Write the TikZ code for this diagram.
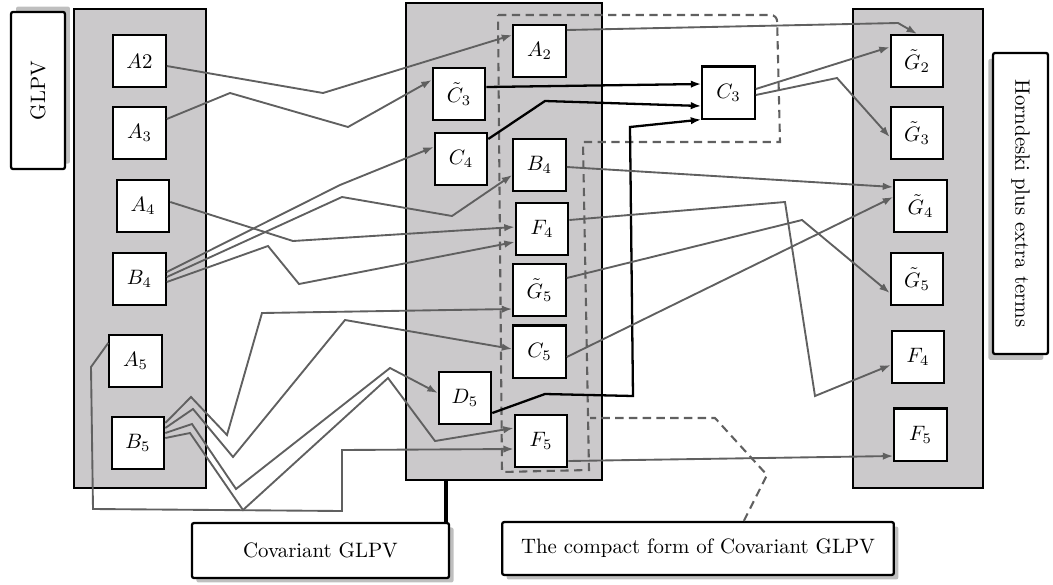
\documentclass[tikz,border=0pt]{standalone}
\usetikzlibrary{arrows.meta,shadows}
\definecolor{colfill}{RGB}{203,201,203}
\definecolor{lgray}{RGB}{96,96,96}
\begin{document}
\begin{tikzpicture}[x=0.48pt,y=-0.48pt,
  col/.style={draw=black,line width=1pt,fill=colfill,inner sep=0pt},
  box/.style={draw=black,line width=1pt,fill=white,minimum width=25.2pt,minimum height=25pt,inner sep=0pt},
  lab/.style={draw=black,line width=1.1pt,fill=white,rounded corners=1pt,inner sep=0pt},
  garrow/.style={draw=lgray,line width=0.9pt,-{Latex[length=5pt,width=3.6pt]}},
  barrow/.style={draw=black,line width=1.1pt,-{Latex[length=5pt,width=3.6pt]}},
  cdash/.style={draw=lgray,line width=1pt,dash pattern=on 4pt off 2.6pt},
]
\useasboundingbox (0,0) rectangle (1053,585);
% columns
\node[col,minimum width=63.4pt,minimum height=229.9pt] (lcol) at (140,248.5) {};
\node[col,minimum width=94.1pt,minimum height=229pt] (mcol) at (504,241.5) {};
\node[col,minimum width=62.4pt,minimum height=229.9pt] (rcol) at (918,248.5) {};
% compact outline
\draw[cdash] (498,15) [rounded corners=3pt] -- (777,15) [sharp corners] -- (780,142) -- (583,142) -- (589,470) -- (502,472) -- cycle;
% labels
\node[lab,rotate=90,minimum width=75.4pt,minimum height=25.9pt,drop shadow={shadow xshift=2.4pt,shadow yshift=2.6pt}] (glpv) at (38,90.5) {GLPV};
\node[lab,rotate=-90,minimum width=144.5pt,minimum height=26.4pt,drop shadow={shadow xshift=-2.2pt,shadow yshift=-2.8pt}] (hor) at (1020.5,203.5) {Horndeski plus extra terms};
\node[lab,minimum width=123.4pt,minimum height=26.4pt,drop shadow] (cov) at (320.5,550.5) {Covariant GLPV};
\node[lab,minimum width=188pt,minimum height=25.4pt,drop shadow] (cpt) at (698,548.5) {The compact form of Covariant GLPV};
% left nodes
\node[box] (A2L) at (139.5,61) {$A2$};
\node[box] (A3L) at (139.5,133) {$A_3$};
\node[box] (A4L) at (143,206) {$A_4$};
\node[box] (B4L) at (139.5,279) {$B_4$};
\node[box] (A5L) at (135.5,361) {$A_5$};
\node[box] (B5L) at (138,443) {$B_5$};
% middle nodes
\node[box] (mA2) at (539.5,51) {$A_2$};
\node[box] (mC3t) at (459,94) {$\tilde C_3$};
\node[box] (mC4) at (461,159) {$C_4$};
\node[box] (mB4) at (539.5,165) {$B_4$};
\node[box] (mF4) at (542,229) {$F_4$};
\node[box] (mG5) at (539.5,290) {$\tilde G_5$};
\node[box] (mC5) at (539.5,351.5) {$C_5$};
\node[box] (mD5) at (465,398) {$D_5$};
\node[box] (mF5) at (541,441) {$F_5$};
\node[box] (C3) at (728.5,92.5) {$C_3$};
% right nodes
\node[box] (G2) at (917,61) {$\tilde G_2$};
\node[box] (G3) at (917,133) {$\tilde G_3$};
\node[box] (G4) at (920.5,206) {$\tilde G_4$};
\node[box] (G5) at (917,279) {$\tilde G_5$};
\node[box] (F4R) at (918,357) {$F_4$};
\node[box] (F5R) at (920.5,434.5) {$F_5$};
% label connectors
\coordinate (covtop) at ([xshift=-2pt]cov.north east);
\draw[line width=1.6pt] (covtop) -- (covtop |- mcol.south);
\draw[cdash] ([xshift=22pt]cpt.north) -- (767,475) -- (715,418) -- (590,418);
% left -> middle
\draw[garrow] (A2L.east |- 0,66) -- (323,93) -- (mA2.west |- 0,35);
\draw[garrow] (A3L.east |- 0,119) -- (230,93) -- (348,127) -- (mC3t.west |- 0,80);
\draw[garrow] (A4L.east |- 0,202) -- (293,241) -- (mF4.west |- 0,227);
\draw[garrow] (B4L.east |- 0,272) -- (340,185) -- (mC4.west |- 0,147);
\draw[garrow] (B4L.east |- 0,277) -- (342,197) -- (452,216) -- (mB4.west |- 0,175);
\draw[garrow] (B4L.east |- 0,282) -- (268,246) -- (299,284) -- (mF4.west |- 0,242);
\draw[garrow] (A5L.west |- 0,343) -- (91,367) -- (93,509) -- (342,511) -- (342,450) -- (mF5.west |- 0,449);
\draw[garrow] (B5L.east |- 0,423) -- (191,397) -- (227,435) -- (262,313) -- (mG5.west |- 0,309);
\draw[garrow] (B5L.east |- 0,428) -- (193,409) -- (233,457) -- (345,320) -- (mC5.west |- 0,349);
\draw[garrow] (B5L.east |- 0,433) -- (192,424) -- (236,489) -- (390,368) -- (mD5.west |- 0,393);
\draw[garrow] (B5L.east |- 0,438) -- (190,433) -- (243,510) -- (388,378) -- (435,441) -- (mF5.west |- 0,428);
% middle -> C3
\draw[barrow] (mC3t.east |- 0,87) -- (C3.west |- 0,84);
\draw[barrow] (mC4.east |- 0,139) -- (545,101) -- (C3.west |- 0,106);
\draw[barrow] (mD5.east |- 0,413) -- (545,394) -- (633,396) -- (630,127) -- (C3.south west);
% middle -> right
\draw[garrow] (mA2.east |- 0,30) -- (898,23) -- (G2.north);
\draw[garrow] (C3.east |- 0,89) -- (G2.west |- 0,47);
\draw[garrow] (C3.east |- 0,95) -- (837,78) -- (G3.west |- 0,137);
\draw[garrow] (mB4.east |- 0,167) -- (G4.west |- 0,187);
\draw[garrow] (mF4.east |- 0,220) -- (785,202) -- (815,396) -- (F4R.west |- 0,365);
\draw[garrow] (mG5.east |- 0,278) -- (802,220) -- (G5.west |- 0,293);
\draw[garrow] (mC5.east |- 0,357) -- (G4.west |- 0,197);
\draw[garrow] (mF5.east |- 0,461) -- (F5R.west |- 0,456);
\end{tikzpicture}
\end{document}
